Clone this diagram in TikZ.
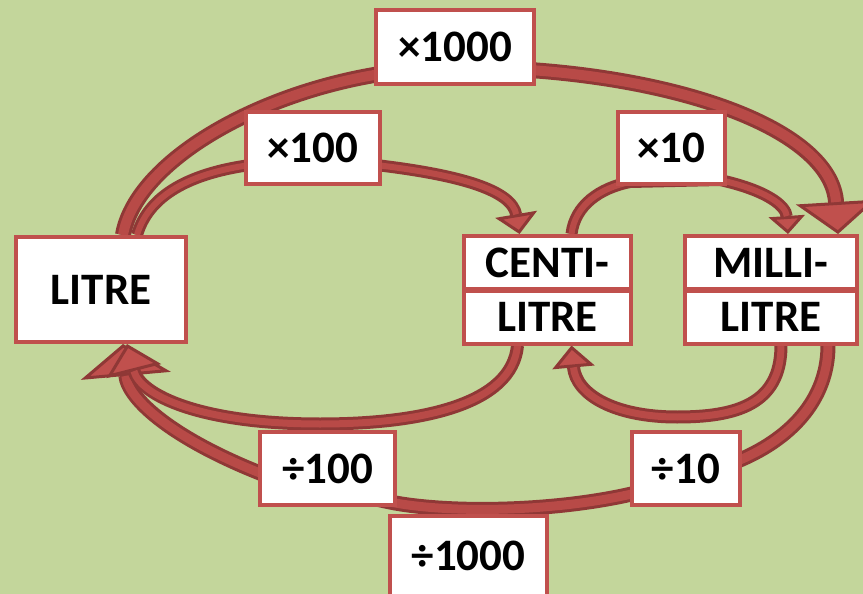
\documentclass[tikz,border=0pt]{standalone}
\usepackage{fontspec}
\setmainfont{Carlito}
\usetikzlibrary{arrows.meta}
\definecolor{bgc}{HTML}{C3D69B}
\definecolor{boxred}{HTML}{C0504D}
\definecolor{darkred}{HTML}{8F3836}
\definecolor{fillred}{HTML}{B84A47}
\pgfdeclarelayer{bg}
\pgfsetlayers{bg,main}
\tikzset{
  lbl/.style={draw=boxred, line width=4pt, fill=white, inner sep=0pt,
    font=\fontsize{45}{48}\selectfont\bfseries, text=black},
  band/.style={draw=darkred, line width=#1},
  core/.style={draw=fillred, line width=#1},
}
% #1 head width, #2 head length, #3 body width, #4 outline total width, #5 path
\newcommand\RedArrow[5]{%
  \draw[band={#4}, -{Triangle[width=#1,length=#2,line width=3pt,fill=boxred,color=darkred]}] #5;
  \draw[core={#3}, shorten >=#2] #5;
}
\begin{document}
\begin{tikzpicture}[x=1pt,y=-1pt]
\useasboundingbox (0,0) rectangle (863,594);
% nodes
\node[lbl, minimum width=158pt, minimum height=74pt] (x1000) at (455,47) {×1000};
\node[lbl, minimum width=134pt, minimum height=72pt] (x100) at (313,148) {×100};
\node[lbl, minimum width=107pt, minimum height=72pt] (x10) at (671.5,148) {×10};
\node[lbl, minimum width=170pt, minimum height=105pt] (litre) at (101,289.5) {LITRE};
\node[lbl, minimum width=167pt, minimum height=53pt] (centi) at (547.5,262.5) {CENTI-};
\node[lbl, minimum width=167pt, minimum height=53pt] (centil) at (547.5,317) {LITRE};
\node[lbl, minimum width=172pt, minimum height=53pt] (milli) at (771,262.5) {MILLI-};
\node[lbl, minimum width=172pt, minimum height=53pt] (millil) at (771,317) {LITRE};
\node[lbl, minimum width=135pt, minimum height=73pt] (d100) at (327.5,468.5) {÷100};
\node[lbl, minimum width=108pt, minimum height=73pt] (d10) at (686,468.5) {÷10};
\node[lbl, minimum width=157pt, minimum height=80pt] (d1000) at (468.5,556) {÷1000};
\begin{pgfonlayer}{bg}
\fill[bgc] (0,0) rectangle (863,594);
% x1000
\RedArrow{80pt}{32pt}{10pt}{16pt}{([xshift=22pt]litre.north) .. controls (135,165) and (250,95) .. (380,74) -- (530,70) .. controls (700,82) and (832,135) .. ([xshift=67pt]milli.north)}
% x100
\RedArrow{42pt}{20pt}{6pt}{12pt}{([xshift=36pt]litre.north) .. controls (150,190) and (200,172) .. (250,165) -- (376,165) .. controls (460,175) and (512,190) .. ([xshift=-28pt]centi.north)}
% x10
\RedArrow{36pt}{18pt}{6pt}{12pt}{([xshift=24pt]centi.north) .. controls (575,205) and (600,188) .. (630,182) -- (720,180) .. controls (765,190) and (786,205) .. ([xshift=17pt]milli.north)}
% div 1000 (outer)
\RedArrow{90pt}{32pt}{9pt}{15pt}{([xshift=57pt]millil.south) .. controls (828,400) and (790,440) .. (735,462) -- (640,492) .. controls (560,512) and (450,514) .. (390,502) -- (265,475) .. controls (175,440) and (128,400) .. ([xshift=22pt]litre.south)}
% div 100 (inner)
\RedArrow{56pt}{28pt}{7pt}{13pt}{([xshift=-30pt]centil.south) .. controls (512,405) and (420,424) .. (320,424) .. controls (200,424) and (140,395) .. ([xshift=26pt]litre.south)}
% div 10
\RedArrow{42pt}{22pt}{7pt}{13pt}{([xshift=10pt]millil.south) .. controls (781,405) and (735,417) .. (677,417) .. controls (615,417) and (576,395) .. ([xshift=24pt]centil.south)}
\end{pgfonlayer}
\end{tikzpicture}
\end{document}
